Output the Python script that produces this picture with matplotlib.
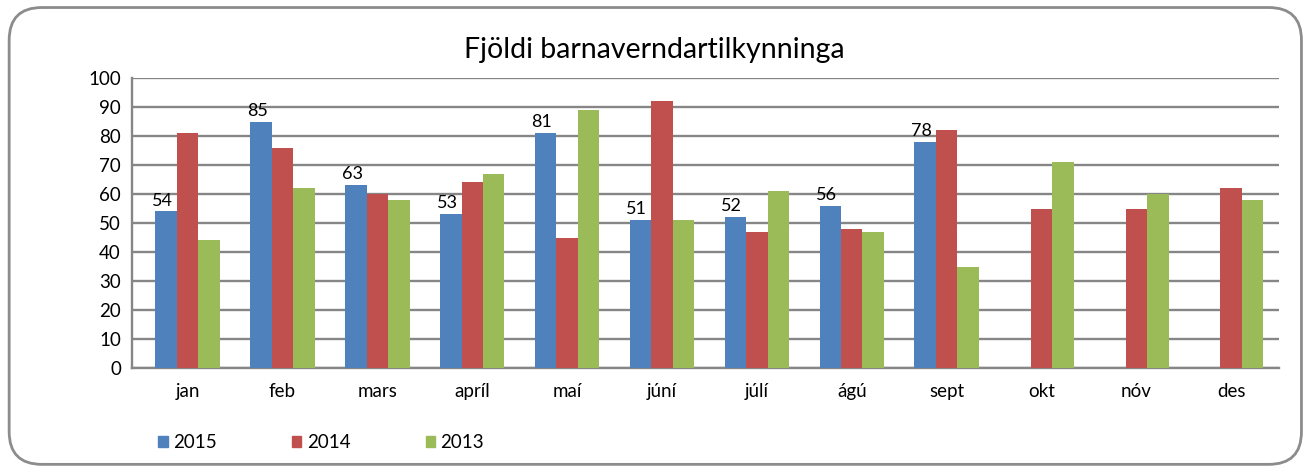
import matplotlib.pyplot as plt
import numpy as np
from matplotlib.patches import FancyBboxPatch, Patch

months = ["jan", "feb", "mars", "apríl", "maí", "júní", "júlí", "ágú", "sept", "okt", "nóv", "des"]
years = ["2015", "2014", "2013"]
v2015 = [54, 85, 63, 53, 81, 51, 52, 56, 78, None, None, None]
v2014 = [81, 76, 60, 64, 45, 92, 47, 48, 82, 55, 55, 62]
v2013 = [44, 62, 58, 67, 89, 51, 61, 47, 35, 71, 60, 58]
colors = ["#4F81BD", "#C0504D", "#9BBB59"]

plt.rcParams["font.family"] = ["Lato", "DejaVu Sans"]

fig = plt.figure(figsize=(13.08, 4.70), dpi=100)
ax = fig.add_axes([0.101, 0.217, 0.877, 0.617])

x = np.arange(len(months))
width = 0.226
series = [v2015, v2014, v2013]
for i, (vals, col, name) in enumerate(zip(series, colors, years)):
    xs = [xi + (i - 1) * width for xi, v in zip(x, vals) if v is not None]
    ys = [v for v in vals if v is not None]
    bars = ax.bar(xs, ys, width, color=col, label=name, zorder=3)
    if name == "2015":
        # only the 2015 bars carry value labels
        for b, v in zip(bars, ys):
            ax.text(b.get_x() + b.get_width() / 2 - 0.04, v + 1, str(v),
                    ha="center", va="bottom", fontsize=13, zorder=4)

ax.set_xlim(-0.585, len(months) - 0.494)
ax.set_ylim(0, 100)
ax.set_yticks(range(0, 101, 10))
ax.set_xticks(x)
ax.set_xticklabels(months)
ax.tick_params(axis="both", length=0, labelsize=13.5)
ax.tick_params(axis="x", pad=11)
ax.tick_params(axis="y", pad=8)
ax.grid(axis="y", color="#868686", linewidth=1.7, zorder=0)
for s in ["top", "right"]:
    ax.spines[s].set_visible(False)
ax.spines["left"].set_color("#868686")
ax.spines["bottom"].set_color("#868686")
ax.spines["left"].set_linewidth(1.7)
ax.spines["bottom"].set_linewidth(1.7)

fig.text(0.5, 0.893, "Fjöldi barnaverndartilkynninga", ha="center", va="center", fontsize=20.5)

handles = [Patch(color=c) for c in colors]
fig.legend(handles, years, loc="center left", bbox_to_anchor=(0.108, 0.058), ncol=3,
           frameon=False, fontsize=13.5, handlelength=0.5, handleheight=0.5,
           handletextpad=0.3, columnspacing=4.0)

border = FancyBboxPatch((0.007, 0.012), 0.988, 0.972, boxstyle="round,pad=0,rounding_size=0.025",
                        transform=fig.transFigure, fill=False, edgecolor="#8c8c8c",
                        linewidth=2, mutation_aspect=1308 / 470)
fig.patches.append(border)

fig.savefig("out.png", dpi=100)
